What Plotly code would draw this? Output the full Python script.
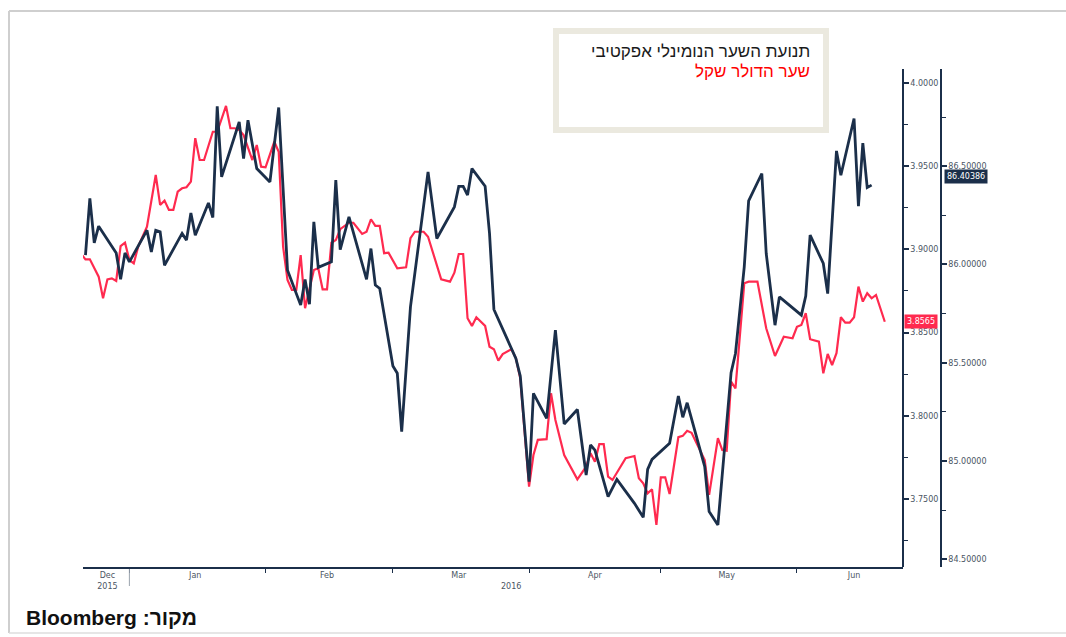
import plotly.graph_objects as go

W, H = 1066, 637

# ---- data ----
usd_ils_dates = [
    "2015-12-21", "2015-12-22", "2015-12-23", "2015-12-24", "2015-12-25", "2015-12-26",
    "2015-12-27", "2015-12-28", "2015-12-29", "2015-12-30", "2015-12-31",
    "2016-01-01", "2016-01-02", "2016-01-03", "2016-01-05", "2016-01-07", "2016-01-08",
    "2016-01-09", "2016-01-10", "2016-01-11", "2016-01-12", "2016-01-13", "2016-01-14",
    "2016-01-15", "2016-01-16", "2016-01-17", "2016-01-18", "2016-01-20", "2016-01-21",
    "2016-01-23", "2016-01-24", "2016-01-25", "2016-01-26", "2016-01-27", "2016-01-29",
    "2016-01-30", "2016-01-31",
    "2016-02-01", "2016-02-03", "2016-02-04", "2016-02-05", "2016-02-06", "2016-02-07",
    "2016-02-08", "2016-02-09", "2016-02-10", "2016-02-11", "2016-02-12", "2016-02-13",
    "2016-02-14", "2016-02-15", "2016-02-16", "2016-02-17", "2016-02-18", "2016-02-20",
    "2016-02-21", "2016-02-23", "2016-02-24", "2016-02-25", "2016-02-26", "2016-02-27",
    "2016-02-28", "2016-02-29",
    "2016-03-02", "2016-03-04", "2016-03-05", "2016-03-06", "2016-03-08", "2016-03-09",
    "2016-03-11", "2016-03-12", "2016-03-14", "2016-03-15", "2016-03-16", "2016-03-17",
    "2016-03-18", "2016-03-19", "2016-03-20", "2016-03-22", "2016-03-23", "2016-03-24",
    "2016-03-25", "2016-03-26", "2016-03-28", "2016-03-29", "2016-03-30",
    "2016-04-01", "2016-04-02", "2016-04-03", "2016-04-05", "2016-04-06", "2016-04-07",
    "2016-04-09", "2016-04-12", "2016-04-14", "2016-04-15", "2016-04-16", "2016-04-17",
    "2016-04-18", "2016-04-19", "2016-04-20", "2016-04-23", "2016-04-25", "2016-04-26",
    "2016-04-27", "2016-04-28", "2016-04-29", "2016-04-30",
    "2016-05-01", "2016-05-02", "2016-05-03", "2016-05-05", "2016-05-06", "2016-05-07",
    "2016-05-08", "2016-05-11", "2016-05-12", "2016-05-14", "2016-05-15", "2016-05-16",
    "2016-05-17", "2016-05-18", "2016-05-20", "2016-05-21", "2016-05-23", "2016-05-25",
    "2016-05-27", "2016-05-29", "2016-05-31",
    "2016-06-01", "2016-06-02", "2016-06-03", "2016-06-04", "2016-06-06", "2016-06-07",
    "2016-06-08", "2016-06-09", "2016-06-10", "2016-06-11", "2016-06-12", "2016-06-13",
    "2016-06-14", "2016-06-15", "2016-06-16", "2016-06-17", "2016-06-18", "2016-06-19",
    "2016-06-21",
]
usd_ils_values = [
    3.8972, 3.8940, 3.8940, 3.8886, 3.8836, 3.8706,
    3.8820, 3.8826, 3.8810, 3.9020, 3.9040,
    3.8936, 3.8916, 3.9016, 3.9136, 3.9447, 3.9267,
    3.9293, 3.9237, 3.9237, 3.9347, 3.9367, 3.9373,
    3.9407, 3.9668, 3.9537, 3.9537, 3.9707, 3.9707,
    3.9862, 3.9728, 3.9728, 3.9718, 3.9687, 3.9537,
    3.9627, 3.9497,
    3.9493, 3.9647, 3.9587, 3.9016, 3.8816, 3.8756,
    3.8756, 3.8966, 3.8646, 3.8756, 3.8876, 3.8886,
    3.8760, 3.8760, 3.9040, 3.9056, 3.9121, 3.9160,
    3.9160, 3.9093, 3.9106, 3.9181, 3.9141, 3.9141,
    3.8977, 3.8980,
    3.8886, 3.8892, 3.9067, 3.9106, 3.9106, 3.9076,
    3.8906, 3.8820, 3.8806, 3.8860, 3.8972, 3.8972,
    3.8586, 3.8540, 3.8592, 3.8540, 3.8415, 3.8400,
    3.8331, 3.8371, 3.8400, 3.8346, 3.8225,
    3.7574, 3.7764, 3.7855, 3.7859, 3.8135, 3.7975,
    3.7764, 3.7618, 3.7694, 3.7775, 3.7724, 3.7830,
    3.7830, 3.7634, 3.7614, 3.7745, 3.7758, 3.7624,
    3.7594, 3.7534, 3.7558, 3.7344,
    3.7630, 3.7630, 3.7530, 3.7871, 3.7879, 3.7910,
    3.7898, 3.7734, 3.7524, 3.7865, 3.7794, 3.7790,
    3.8205, 3.8165, 3.8796, 3.8806, 3.8806, 3.8526,
    3.8359, 3.8475, 3.8466,
    3.8535, 3.8546, 3.8616, 3.8460, 3.8445, 3.8255,
    3.8371, 3.8305, 3.8376, 3.8592, 3.8560, 3.8560,
    3.8592, 3.8776, 3.8686, 3.8736, 3.8706, 3.8726,
    3.8565,
]

nominal_dates = [
    "2015-12-22", "2015-12-23", "2015-12-24", "2015-12-25", "2015-12-29", "2015-12-30",
    "2015-12-31",
    "2016-01-01", "2016-01-05", "2016-01-06", "2016-01-07", "2016-01-08", "2016-01-09",
    "2016-01-13", "2016-01-14", "2016-01-15", "2016-01-16", "2016-01-19", "2016-01-20",
    "2016-01-21", "2016-01-22", "2016-01-26", "2016-01-27", "2016-01-28", "2016-01-30",
    "2016-02-02", "2016-02-04", "2016-02-06", "2016-02-09", "2016-02-10", "2016-02-11",
    "2016-02-12", "2016-02-13", "2016-02-16", "2016-02-17", "2016-02-18", "2016-02-20",
    "2016-02-24", "2016-02-25", "2016-02-26", "2016-02-27",
    "2016-03-01", "2016-03-02", "2016-03-03", "2016-03-05", "2016-03-09", "2016-03-11",
    "2016-03-15", "2016-03-16", "2016-03-17", "2016-03-18", "2016-03-19", "2016-03-22",
    "2016-03-23", "2016-03-24", "2016-03-29", "2016-03-30",
    "2016-04-01", "2016-04-02", "2016-04-05", "2016-04-07", "2016-04-09", "2016-04-12",
    "2016-04-14", "2016-04-15", "2016-04-16", "2016-04-19", "2016-04-21", "2016-04-25",
    "2016-04-27", "2016-04-28", "2016-04-29",
    "2016-05-03", "2016-05-05", "2016-05-06", "2016-05-07", "2016-05-11", "2016-05-12",
    "2016-05-14", "2016-05-17", "2016-05-18", "2016-05-20", "2016-05-21", "2016-05-24",
    "2016-05-25", "2016-05-27", "2016-05-28",
    "2016-06-02", "2016-06-03", "2016-06-04", "2016-06-07", "2016-06-08", "2016-06-10",
    "2016-06-11", "2016-06-14", "2016-06-15", "2016-06-16", "2016-06-17", "2016-06-18",
]
nominal_values = [
    86.047, 86.336, 86.110, 86.195, 86.058, 85.925,
    86.059,
    86.013, 86.174, 86.064, 86.174, 86.166, 85.996,
    86.158, 86.124, 86.262, 86.149, 86.313, 86.239,
    86.805, 86.446, 86.725, 86.539, 86.734, 86.488,
    86.420, 86.799, 85.971, 85.793, 85.924, 85.798,
    86.217, 85.985, 86.013, 86.429, 86.076, 86.242,
    85.924, 86.081, 85.895, 85.878,
    85.483, 85.446, 85.149, 85.784, 86.471, 86.132,
    86.293, 86.398, 86.398, 86.353, 86.488, 86.398,
    86.158, 85.771, 85.522, 85.432,
    84.894, 85.344, 85.217, 85.666, 85.188, 85.262,
    84.928, 85.081, 85.055, 84.818, 84.906, 84.784,
    84.713, 84.957, 85.008,
    85.090, 85.330, 85.222, 85.296, 84.971, 84.742,
    84.674, 85.449, 85.547, 85.988, 86.324, 86.463,
    86.056, 85.691, 85.835,
    85.742, 85.839, 86.149, 86.005, 85.852, 86.578,
    86.454, 86.743, 86.297, 86.618, 86.392, 86.40386,
]

usd_ils_name = "שער הדולר שקל"
nominal_name = "תנועת השער הנומינלי אפקטיבי"
source_text = "\u202bמקור: Bloomberg\u202c"

month_tick_dates = ["2015-12-27", "2016-01-16", "2016-02-15", "2016-03-16",
                    "2016-04-16", "2016-05-16", "2016-06-14"]
month_tick_labels = ["Dec<br>2015", "Jan", "Feb", "Mar", "Apr", "May", "Jun"]
month_starts = ["2016-01-01", "2016-02-01", "2016-03-01", "2016-04-01",
                "2016-05-01", "2016-06-01"]
year_label_date = "2016-03-28"
year_label_text = "2016"
year_boundary = "2016-01-01"

# ---- style ----
NAVY = "#1b2f4a"
RED = "#ff2a4f"
TICKFONT = dict(family="DejaVu Sans", size=8, color="#4b5563")


def px(x):
    return x / W


def py(y):
    return 1 - y / H


fig = go.Figure()
fig.add_trace(go.Scatter(x=usd_ils_dates, y=usd_ils_values, mode="lines",
                         name=usd_ils_name, yaxis="y",
                         line=dict(color=RED, width=2.2)))
fig.add_trace(go.Scatter(x=nominal_dates, y=nominal_values, mode="lines",
                         name=nominal_name, yaxis="y2",
                         line=dict(color=NAVY, width=2.8)))

fig.update_layout(
    width=W, height=H,
    margin=dict(l=0, r=0, t=0, b=0),
    paper_bgcolor="white", plot_bgcolor="white",
    showlegend=False,
    xaxis=dict(
        domain=[px(83), px(903)], type="date",
        range=["2015-12-21 10:30", "2016-06-25 03:30"],
        showgrid=False, zeroline=False,
        showline=True, linecolor=NAVY, linewidth=1.5,
        tickmode="array", tickvals=month_tick_dates, ticktext=month_tick_labels,
        ticks="", tickfont=TICKFONT,
        minor=dict(tickmode="array", tickvals=month_starts, ticks="outside",
                   ticklen=4, tickwidth=1, tickcolor=NAVY),
        anchor="y",
    ),
    yaxis=dict(
        domain=[py(567), py(69)], range=[3.7091, 4.0084],
        side="right", anchor="free", position=px(903),
        showgrid=False, zeroline=False,
        showline=True, linecolor=NAVY, linewidth=1.5,
        ticks="outside", ticklen=5, tickwidth=1.5, tickcolor=NAVY,
        tick0=3.75, dtick=0.05, tickformat=".4f", tickfont=TICKFONT,
        minor=dict(tick0=3.75, dtick=0.025, ticks="outside", ticklen=4,
                   tickwidth=1, tickcolor=NAVY),
    ),
    yaxis2=dict(
        overlaying="y", range=[84.46, 86.995],
        side="right", anchor="free", position=px(941),
        showgrid=False, zeroline=False,
        showline=True, linecolor=NAVY, linewidth=1.5,
        ticks="outside", ticklen=5, tickwidth=1.5, tickcolor=NAVY,
        tick0=84.5, dtick=0.5, tickformat=".5f", tickfont=TICKFONT,
        minor=dict(tick0=84.5, dtick=0.25, ticks="outside", ticklen=4,
                   tickwidth=1, tickcolor=NAVY),
    ),
)

shapes = [
    # page frame (open on the right, as in the cropped screenshot)
    dict(type="line", xref="paper", yref="paper",
         x0=px(9), x1=1.0, y0=py(11), y1=py(11),
         line=dict(color="#cfcfcf", width=2)),
    dict(type="line", xref="paper", yref="paper",
         x0=px(9), x1=px(9), y0=py(633), y1=py(11),
         line=dict(color="#cfcfcf", width=2)),
    dict(type="line", xref="paper", yref="paper",
         x0=px(9), x1=1.0, y0=py(633), y1=py(633),
         line=dict(color="#dedede", width=1.5)),
    # legend box
    dict(type="rect", xref="paper", yref="paper",
         x0=px(556), x1=px(826), y0=py(130), y1=py(31),
         line=dict(color="#ebe9df", width=6), fillcolor="white"),
    # year boundary tick
    dict(type="line", xref="x", yref="paper",
         x0=year_boundary, x1=year_boundary, y0=py(569), y1=py(586),
         line=dict(color="#9aa3ad", width=1)),
]
fig.update_layout(shapes=shapes)

annotations = [
    dict(text=nominal_name, xref="paper", yref="paper", x=px(812), y=py(52),
         xanchor="right", yanchor="middle", showarrow=False,
         font=dict(family="Liberation Sans", size=17, color="#1a1a1a")),
    dict(text=usd_ils_name, xref="paper", yref="paper", x=px(812), y=py(72),
         xanchor="right", yanchor="middle", showarrow=False,
         font=dict(family="Liberation Sans", size=17, color="#ff0000")),
    dict(text=source_text, xref="paper", yref="paper", x=px(24), y=py(617),
         xanchor="left", yanchor="middle", showarrow=False,
         font=dict(family="Liberation Sans", size=21, color="#111111", weight=700)),
    dict(text=year_label_text, xref="x", yref="paper", x=year_label_date, y=py(586),
         xanchor="center", yanchor="middle", showarrow=False, font=TICKFONT),
    # last value badges
    dict(text=f"{usd_ils_values[-1]:.4f}", xref="paper", yref="y",
         x=px(921), y=usd_ils_values[-1], xanchor="center", yanchor="middle",
         showarrow=False, bgcolor=RED, borderpad=2,
         font=dict(family="DejaVu Sans", size=8, color="white")),
    dict(text=f"{nominal_values[-1]:.5f}", xref="paper", yref="y2",
         x=px(966), y=nominal_values[-1], yshift=9, xanchor="center", yanchor="middle",
         showarrow=False, bgcolor=NAVY, borderpad=2,
         font=dict(family="DejaVu Sans", size=8, color="white")),
]
fig.update_layout(annotations=annotations)

fig.write_html(
    "out.html",
    config={"displayModeBar": False},
    post_script="document.body.style.margin='0';document.body.style.overflow='hidden';",
)
